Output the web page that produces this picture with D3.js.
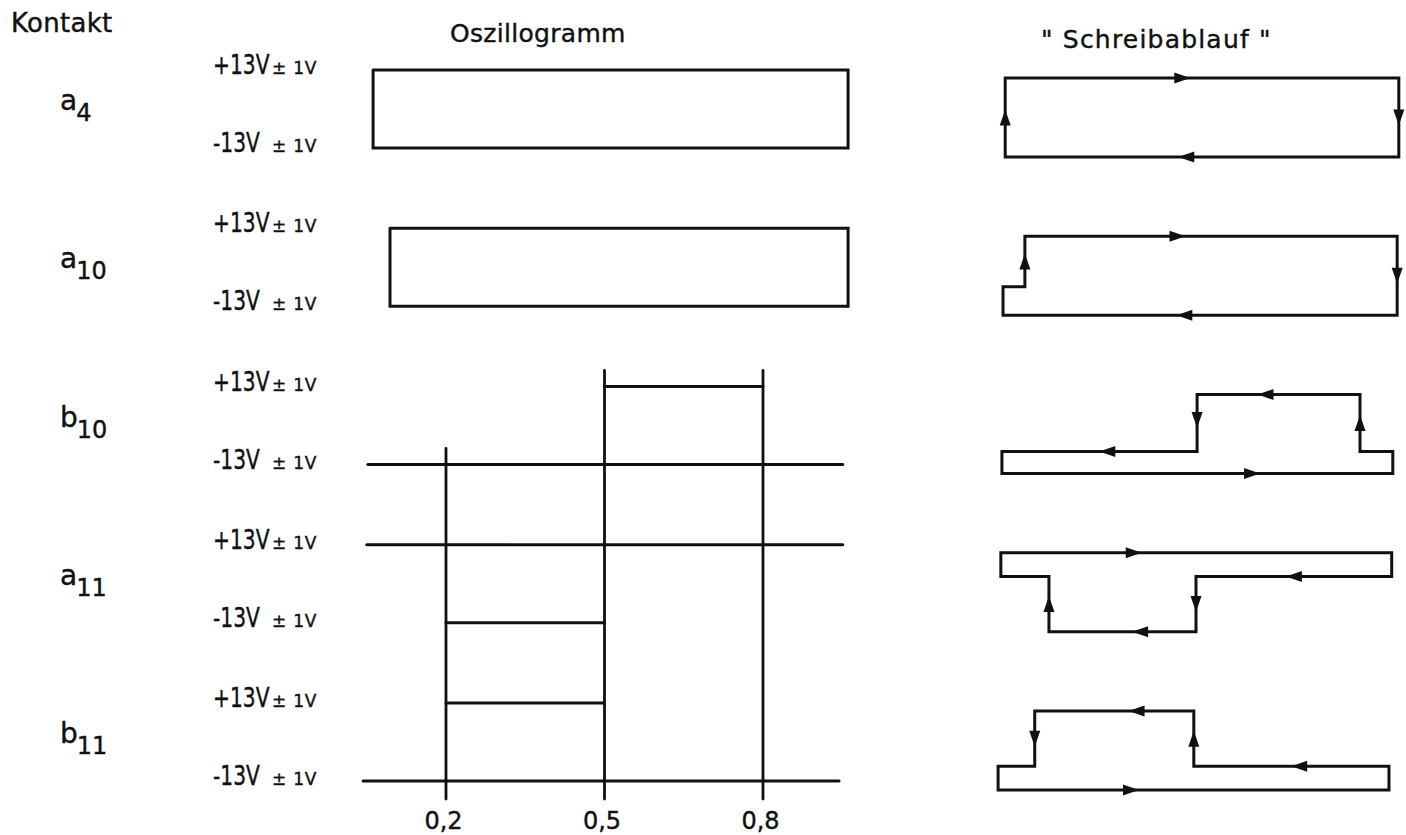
<!DOCTYPE html>
<html>
<head>
<meta charset="utf-8">
<script src="https://cdn.jsdelivr.net/npm/d3@7"></script>
<style>
  html, body { margin: 0; padding: 0; background: #fff; }
  svg { display: block; }
  text { font-family: "DejaVu Sans", sans-serif; fill: #111; stroke: #111; stroke-width: 0.4px; }
</style>
</head>
<body>
<svg id="chart" width="1406" height="835"></svg>
<script>
// ---- contacts, top to bottom ----
const contacts       = ["a4", "a10", "b10", "a11", "b11"];
const contactLetters = ["a", "a", "b", "a", "b"];
const contactIndices = ["4", "10", "10", "11", "11"];

// ---- voltage levels and their labels ----
const levels        = [13, -13];
const levelLabels   = ["+13V", "-13V"];
const toleranceText = "± 1V";

// ---- column headings ----
const headings = ["Kontakt", "Oszillogramm", "\" Schreibablauf \""];

// ---- time axis ----
const timeTicks      = [0.2, 0.5, 0.8];
const timeTickLabels = ["0,2", "0,5", "0,8"];
// each time marker starts at this contact / level and runs down past b11
const markerFromContact = ["b10", "b10", "b10"];
const markerFromLevel   = [-13, 13, 13];
const markerToContact   = "b11";

// ---- oscillogram traces: polylines of [time, volts] ----
const oscA4  = [[[0.062, 13], [0.961, 13], [0.961, -13], [0.062, -13], [0.062, 13]]];
const oscA10 = [[[0.094, 13], [0.961, 13], [0.961, -13], [0.094, -13], [0.094, 13]]];
const oscB10 = [[[0.052, -13], [0.951, -13]], [[0.5, 13], [0.8, 13]]];
const oscA11 = [[[0.050, 13], [0.951, 13]], [[0.2, -13], [0.5, -13]]];
const oscB11 = [[[0.2, 13], [0.5, 13]], [[0.043, -13], [0.944, -13]]];
const oscTraces = [oscA4, oscA10, oscB10, oscA11, oscB11];

// ---- "Schreibablauf": closed pen loops, vertices [time, level 0..1] in drawing order ----
const loopA4  = [[0.151, 0], [0.151, 1], [0.871, 1], [0.871, 0]];
const loopA10 = [[0.147, 0], [0.147, 0.36], [0.187, 0.36], [0.187, 1], [0.868, 1], [0.868, 0]];
const loopB10 = [[0.145, 0], [0.860, 0], [0.860, 0.28], [0.8, 0.28], [0.8, 1], [0.502, 1], [0.502, 0.28], [0.145, 0.28]];
const loopA11 = [[0.143, 1], [0.858, 1], [0.858, 0.70], [0.5, 0.70], [0.5, 0], [0.231, 0], [0.231, 0.70], [0.143, 0.70]];
const loopB11 = [[0.138, 0], [0.853, 0], [0.853, 0.30], [0.496, 0.30], [0.496, 1], [0.205, 1], [0.205, 0.30], [0.138, 0.30]];
const loops = [loopA4, loopA10, loopB10, loopA11, loopB11];

// direction arrows: [segment index, fraction along segment]
const arrowsA4  = [[0, 0.5], [1, 0.45], [2, 0.5], [3, 0.54]];
const arrowsA10 = [[2, 0.5], [3, 0.41], [4, 0.5], [5, 0.54]];
const arrowsB10 = [[0, 0.64], [3, 0.5], [4, 0.58], [5, 0.45], [6, 0.46]];
const arrowsA11 = [[0, 0.34], [2, 0.5], [3, 0.5], [4, 0.38], [5, 0.5]];
const arrowsB11 = [[0, 0.34], [2, 0.46], [3, 0.5], [4, 0.36], [5, 0.5]];
const loopArrows = [arrowsA4, arrowsA10, arrowsB10, arrowsA11, arrowsB11];

// ---- scales ----
const svg  = d3.select("#chart");
const ink  = "#111";
const rowY = d3.scalePoint().domain(contacts).range([70, 703]);
const volt = d3.scaleLinear().domain([13, -13]).range([0, 78]);
const xOsc = d3.scaleLinear().domain([0.2, 0.8]).range([446, 763]);
const xPen = d3.scaleLinear().domain([0.2, 0.8]).range([1032, 1360]);
const lvl  = d3.scaleLinear().domain([1, 0]).range([8, 87]);

// ---- headings ----
const headingPos = [[11, 32], [450, 42], [1041, 48]];
svg.selectAll("text.heading").data(headings).join("text")
  .attr("class", "heading")
  .attr("x", (d, i) => headingPos[i][0])
  .attr("y", (d, i) => headingPos[i][1])
  .attr("font-size", (d, i) => i === 0 ? 26 : 25)
  .attr("letter-spacing", (d, i) => i === 2 ? 1.2 : 0.3)
  .text(d => d);

// ---- contact names with subscript ----
contacts.forEach((c, i) => {
  const t = svg.append("text")
    .attr("x", 60)
    .attr("y", rowY(c) + 40)
    .attr("font-size", 28);
  t.append("tspan").text(contactLetters[i]);
  t.append("tspan").attr("dx", -1).attr("dy", 11).attr("font-size", 24).text(contactIndices[i]);
});

// ---- voltage labels: level in large narrow type, tolerance in small type ----
contacts.forEach(c => {
  levels.forEach((v, j) => {
    const base = rowY(c) + volt(v) + 4;
    svg.append("text")
      .attr("transform", `translate(213,${base}) scale(0.75,1)`)
      .attr("font-size", 27)
      .text(levelLabels[j]);
    svg.append("text")
      .attr("x", 272).attr("y", base)
      .attr("font-size", 17)
      .attr("letter-spacing", 0.8)
      .text(toleranceText);
  });
});

// ---- oscillogram ----
const gOsc = svg.append("g")
  .attr("fill", "none").attr("stroke", ink)
  .attr("stroke-width", 3).attr("stroke-linecap", "round").attr("stroke-linejoin", "miter");

contacts.forEach((c, i) => {
  const line = d3.line().x(d => xOsc(d[0])).y(d => rowY(c) + volt(d[1]));
  gOsc.selectAll(null).data(oscTraces[i]).join("path").attr("d", line);
});

// time markers
timeTicks.forEach((t, i) => {
  gOsc.append("line")
    .attr("x1", xOsc(t)).attr("x2", xOsc(t))
    .attr("y1", rowY(markerFromContact[i]) + volt(markerFromLevel[i]) - 16)
    .attr("y2", rowY(markerToContact) + volt(-13) + 18)
    .attr("stroke-width", 2.8);
});

// time axis labels
const axis = d3.axisBottom(xOsc)
  .tickValues(timeTicks)
  .tickFormat((d, i) => timeTickLabels[i])
  .tickSize(0)
  .tickPadding(7);
const gAxis = svg.append("g").attr("transform", "translate(-3,805)").call(axis);
gAxis.select(".domain").remove();
gAxis.attr("font-family", null).attr("font-size", null);
gAxis.selectAll("text").style("font-size", "24px");

// ---- pen loops ----
const gPen = svg.append("g")
  .attr("fill", "none").attr("stroke", ink)
  .attr("stroke-width", 3).attr("stroke-linejoin", "miter");
const arrowHead = "M8,0L-8,-5.5L-8,5.5Z";

contacts.forEach((c, i) => {
  const px = d => [xPen(d[0]), rowY(c) + lvl(d[1])];
  const line = d3.line().x(d => px(d)[0]).y(d => px(d)[1]).curve(d3.curveLinearClosed);
  gPen.append("path").datum(loops[i]).attr("d", line);

  const pts = loops[i].map(px);
  loopArrows[i].forEach(([s, f]) => {
    const a = pts[s], b = pts[(s + 1) % pts.length];
    const x = a[0] + (b[0] - a[0]) * f;
    const y = a[1] + (b[1] - a[1]) * f;
    const ang = Math.atan2(b[1] - a[1], b[0] - a[0]) * 180 / Math.PI;
    svg.append("path")
      .attr("d", arrowHead)
      .attr("fill", ink)
      .attr("transform", `translate(${x},${y}) rotate(${ang})`);
  });
});
</script>
</body>
</html>
